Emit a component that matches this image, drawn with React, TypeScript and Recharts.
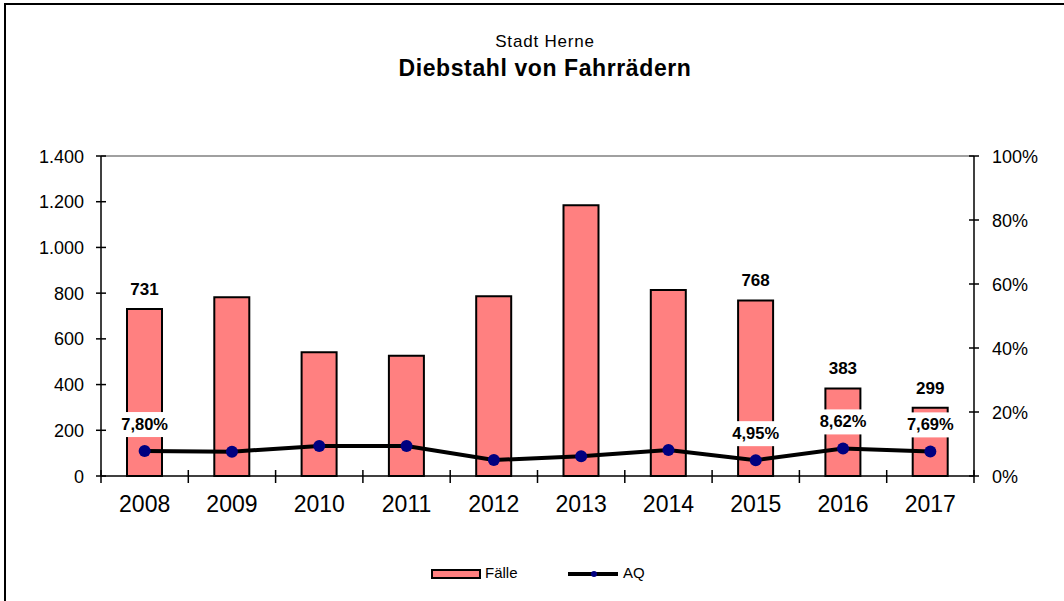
import { ComposedChart, Bar, Line, XAxis, YAxis, LabelList, ReferenceLine } from 'recharts'

const years = ['2008', '2009', '2010', '2011', '2012', '2013', '2014', '2015', '2016', '2017']
const faelle = [731, 782, 541, 526, 786, 1185, 814, 768, 383, 299]
const aq = [7.8, 7.6, 9.4, 9.4, 4.98, 6.2, 8.1, 4.95, 8.62, 7.69]
const labelledYears = ['2008', '2015', '2016', '2017']
const countTicks = [0, 200, 400, 600, 800, 1000, 1200, 1400]
const pctTicks = [0, 20, 40, 60, 80, 100]

const data = years.map((year, i) => ({
  year,
  faelle: faelle[i],
  aq: aq[i],
  faelleLabel: labelledYears.includes(year) ? faelle[i] : null,
  aqLabel: labelledYears.includes(year) ? aq[i] : null,
}))

const W = 1064
const H = 601
const PLOT_LEFT = 101
const PLOT_RIGHT = 974
const PLOT_TOP = 156
const PLOT_BOTTOM = 476
const BAND = (PLOT_RIGHT - PLOT_LEFT) / years.length
const FONT = '"Liberation Sans", Arial, sans-serif'

const thousands = (v: number) => String(v).replace(/\B(?=(\d{3})+(?!\d))/g, '.')
const pct = (v: number) => v.toFixed(2).replace('.', ',') + '%'

const LeftTick = ({ x, y, payload }: any) => (
  <g>
    <line x1={x - 5} x2={x + 5} y1={y} y2={y} stroke="#000" strokeWidth={1.5} />
    <text x={x - 17} y={y} dy={6.5} textAnchor="end" fontSize={18} fill="#000" fontFamily={FONT}>
      {thousands(payload.value)}
    </text>
  </g>
)

const RightTick = ({ x, y, payload }: any) => (
  <g>
    <line x1={x - 5} x2={x + 5} y1={y} y2={y} stroke="#000" strokeWidth={1.5} />
    <text x={x + 18} y={y} dy={6.5} textAnchor="start" fontSize={18} fill="#000" fontFamily={FONT}>
      {payload.value}%
    </text>
  </g>
)

const YearTick = ({ x, y, payload, index }: any) => (
  <g>
    <line x1={x - BAND / 2} x2={x - BAND / 2} y1={y - 6} y2={y + 7} stroke="#000" strokeWidth={1.5} />
    {index === years.length - 1 && (
      <line x1={x + BAND / 2} x2={x + BAND / 2} y1={y - 6} y2={y + 7} stroke="#000" strokeWidth={1.5} />
    )}
    <text x={x} y={y + 36} textAnchor="middle" fontSize={23} fill="#000" fontFamily={FONT}>
      {payload.value}
    </text>
  </g>
)

const BarLabel = ({ x, y, width, value }: any) => {
  if (value == null) return null
  return (
    <text x={Number(x) + Number(width) / 2} y={Number(y) - 20} dy={6} textAnchor="middle"
      fontSize={17} fontWeight="bold" fill="#000" fontFamily={FONT}>
      {value}
    </text>
  )
}

const AqLabel = ({ x, y, value }: any) => {
  if (value == null) return null
  const cy = Number(y) - 27
  return (
    <g>
      <rect x={Number(x) - 26} y={cy - 12} width={52} height={25} fill="#fff" />
      <text x={x} y={cy} dy={6} textAnchor="middle" fontSize={16.5} fontWeight="bold" fill="#000" fontFamily={FONT}>
        {pct(value)}
      </text>
    </g>
  )
}

export default function App() {
  return (
    <div style={{ position: 'fixed', left: 0, top: 0, width: W, height: H, background: '#fff', overflow: 'hidden' }}>
      <div style={{
        position: 'absolute', left: 4, top: 3, width: W + 20, height: H + 20,
        borderTop: '2px solid #000', borderLeft: '2px solid #000',
      }} />
      <ComposedChart
        width={W}
        height={H}
        data={data}
        margin={{ top: PLOT_TOP, left: PLOT_LEFT - 60, right: W - PLOT_RIGHT - 60, bottom: H - PLOT_BOTTOM - 30 }}
        barSize={35}
      >
        <XAxis
          dataKey="year"
          height={30}
          axisLine={{ stroke: '#000', strokeWidth: 1.5 }}
          tickLine={false}
          tickSize={0}
          tickMargin={0}
          tick={<YearTick />}
          interval={0}
        />
        <YAxis
          yAxisId="left"
          width={60}
          domain={[0, 1400]}
          ticks={countTicks}
          axisLine={{ stroke: '#000', strokeWidth: 1.5 }}
          tickLine={false}
          tickSize={0}
          tickMargin={0}
          tick={<LeftTick />}
          interval={0}
        />
        <YAxis
          yAxisId="right"
          orientation="right"
          width={60}
          domain={[0, 100]}
          ticks={pctTicks}
          axisLine={{ stroke: '#000', strokeWidth: 1.5 }}
          tickLine={false}
          tickSize={0}
          tickMargin={0}
          tick={<RightTick />}
          interval={0}
        />
        <ReferenceLine yAxisId="left" y={1400} stroke="#808080" strokeWidth={1.5} />
        <Bar yAxisId="left" dataKey="faelle" fill="#FF8080" stroke="#000" strokeWidth={2} isAnimationActive={false}>
          <LabelList dataKey="faelleLabel" content={<BarLabel />} />
        </Bar>
        <Line
          yAxisId="right"
          dataKey="aq"
          stroke="#000"
          strokeWidth={4}
          dot={{ r: 6, fill: '#000080', stroke: 'none' }}
          activeDot={false}
          isAnimationActive={false}
        >
          <LabelList dataKey="aqLabel" content={<AqLabel />} />
        </Line>
      </ComposedChart>
      <svg width={W} height={H} style={{ position: 'absolute', left: 0, top: 0, pointerEvents: 'none' }}
        fontFamily={FONT}>
        <text x={545} y={47} textAnchor="middle" fontSize={17} letterSpacing={0.8} fill="#000">Stadt Herne</text>
        <text x={545} y={76} textAnchor="middle" fontSize={23} fontWeight="bold" letterSpacing={0.6} fill="#000">
          Diebstahl von Fahrrädern
        </text>
        <rect x={432} y={570} width={48} height={8} fill="#FF8080" stroke="#000" strokeWidth={2} />
        <text x={485} y={578} fontSize={15} fill="#000">Fälle</text>
        <line x1={568} x2={618} y1={574} y2={574} stroke="#000" strokeWidth={4} />
        <circle cx={594} cy={574} r={3} fill="#000080" />
        <text x={623} y={578} fontSize={15} fill="#000">AQ</text>
      </svg>
    </div>
  )
}
